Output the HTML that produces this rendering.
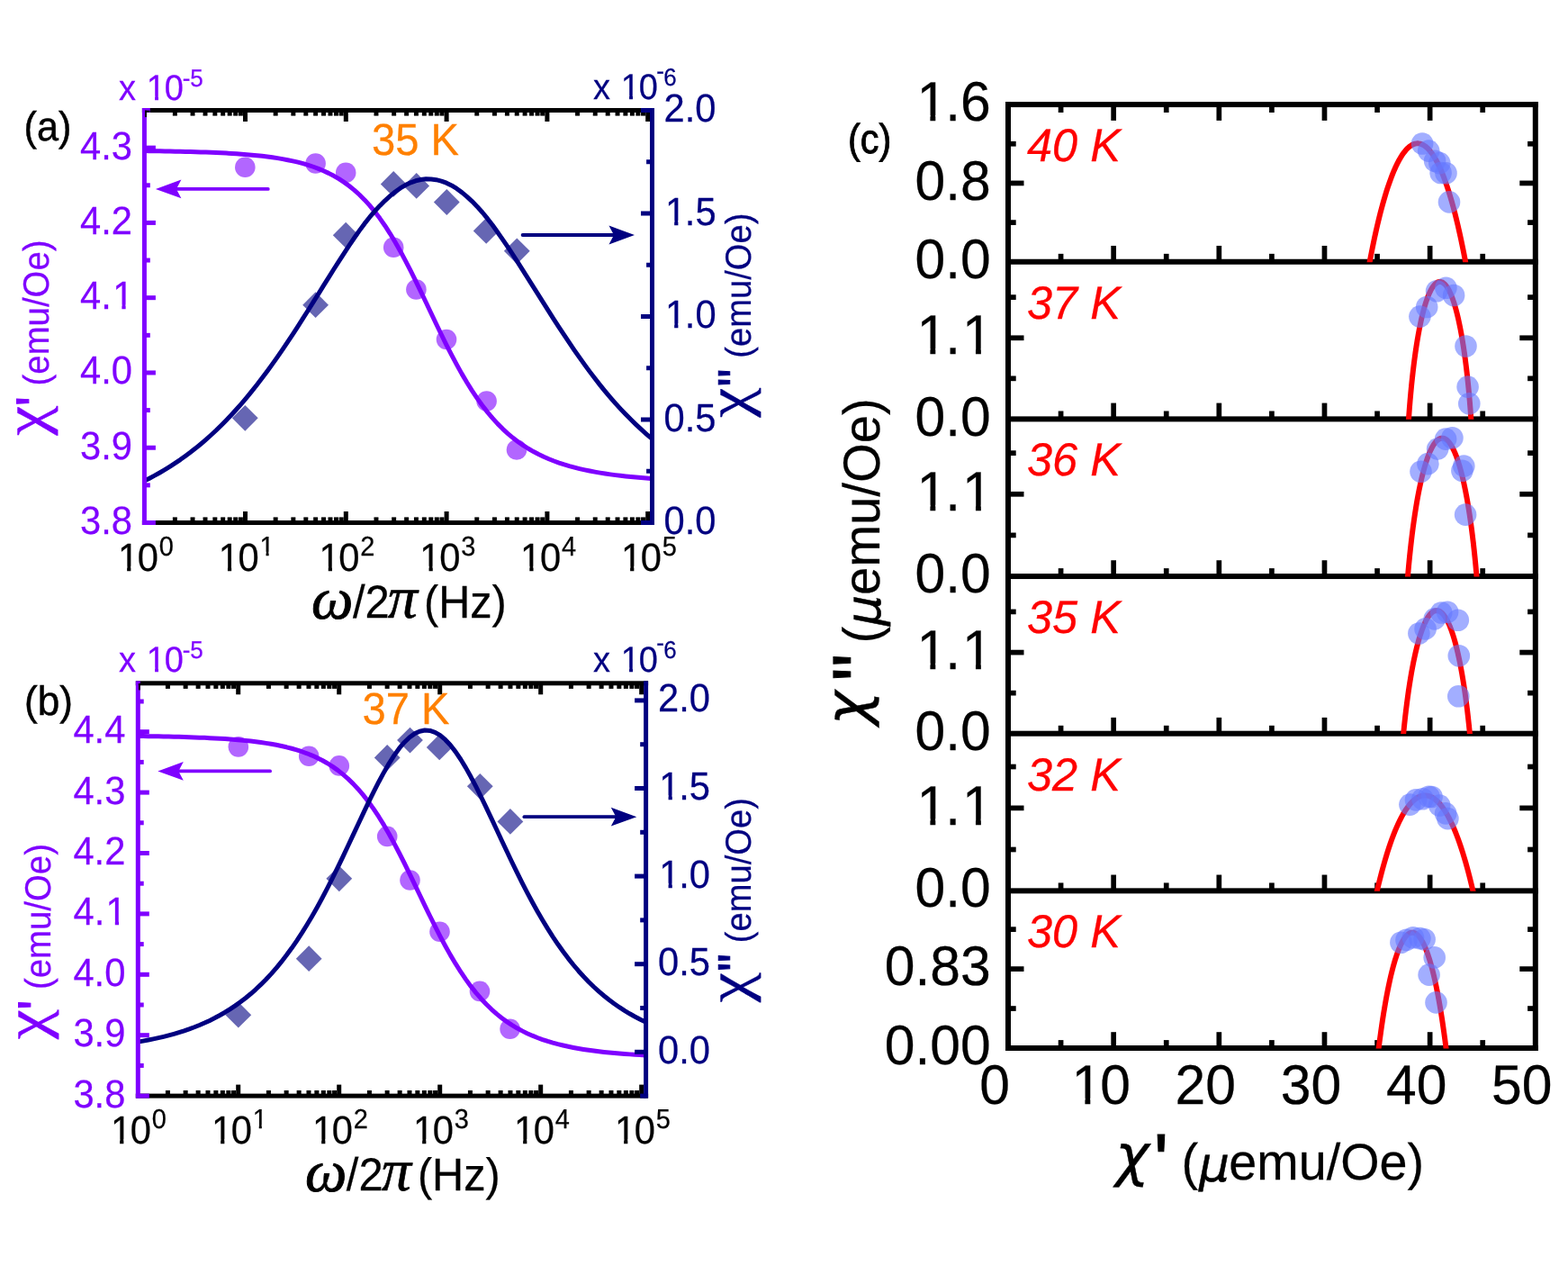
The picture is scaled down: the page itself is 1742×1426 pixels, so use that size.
<!DOCTYPE html>
<html lang="en"><head><meta charset="utf-8"><title>AC susceptibility</title>
<style>
html,body{margin:0;padding:0;background:#fff;}
body{width:1742px;height:1426px;overflow:hidden;}
svg{display:block;}
text{font-family:"Liberation Sans",sans-serif;fill:currentColor;stroke:currentColor;stroke-width:0.25px;white-space:pre;text-rendering:geometricPrecision;font-kerning:none;font-variant-ligatures:none;}
.i{font-style:italic;}
.b{font-weight:bold;}
.gi{font-family:"Liberation Serif","DejaVu Serif",serif;font-style:italic;}
.gb{font-family:"Liberation Serif","DejaVu Serif",serif;font-weight:bold;}
.g{font-family:"Liberation Serif","DejaVu Serif",serif;}
.gbi{font-family:"Liberation Serif","DejaVu Serif",serif;font-weight:bold;font-style:italic;}
.d{font-family:"DejaVu Sans",sans-serif;}
.do{font-family:"DejaVu Sans",sans-serif;font-style:italic;}
.db{font-family:"DejaVu Sans",sans-serif;font-weight:bold;}
</style></head><body>
<svg xmlns="http://www.w3.org/2000/svg" width="1742" height="1426" viewBox="0 0 1742 1426">
<rect width="1742" height="1426" fill="#fff"/>
<g id="panel-a">
<rect x="157.9" y="120" width="569.1" height="5" fill="#000"/>
<rect x="157.9" y="578" width="569.1" height="5" fill="#000"/>
<rect x="191.86" y="122.5" width="5" height="6.1" fill="#000"/>
<rect x="191.86" y="574.4" width="5" height="6.1" fill="#000"/>
<rect x="211.54" y="122.5" width="5" height="6.1" fill="#000"/>
<rect x="211.54" y="574.4" width="5" height="6.1" fill="#000"/>
<rect x="225.51" y="122.5" width="5" height="6.1" fill="#000"/>
<rect x="225.51" y="574.4" width="5" height="6.1" fill="#000"/>
<rect x="236.34" y="122.5" width="5" height="6.1" fill="#000"/>
<rect x="236.34" y="574.4" width="5" height="6.1" fill="#000"/>
<rect x="245.2" y="122.5" width="5" height="6.1" fill="#000"/>
<rect x="245.2" y="574.4" width="5" height="6.1" fill="#000"/>
<rect x="252.68" y="122.5" width="5" height="6.1" fill="#000"/>
<rect x="252.68" y="574.4" width="5" height="6.1" fill="#000"/>
<rect x="259.17" y="122.5" width="5" height="6.1" fill="#000"/>
<rect x="259.17" y="574.4" width="5" height="6.1" fill="#000"/>
<rect x="264.88" y="122.5" width="5" height="6.1" fill="#000"/>
<rect x="264.88" y="574.4" width="5" height="6.1" fill="#000"/>
<rect x="270" y="122.5" width="5" height="12.5" fill="#000"/>
<rect x="270" y="568" width="5" height="12.5" fill="#000"/>
<rect x="303.66" y="122.5" width="5" height="6.1" fill="#000"/>
<rect x="303.66" y="574.4" width="5" height="6.1" fill="#000"/>
<rect x="323.34" y="122.5" width="5" height="6.1" fill="#000"/>
<rect x="323.34" y="574.4" width="5" height="6.1" fill="#000"/>
<rect x="337.31" y="122.5" width="5" height="6.1" fill="#000"/>
<rect x="337.31" y="574.4" width="5" height="6.1" fill="#000"/>
<rect x="348.14" y="122.5" width="5" height="6.1" fill="#000"/>
<rect x="348.14" y="574.4" width="5" height="6.1" fill="#000"/>
<rect x="357" y="122.5" width="5" height="6.1" fill="#000"/>
<rect x="357" y="574.4" width="5" height="6.1" fill="#000"/>
<rect x="364.48" y="122.5" width="5" height="6.1" fill="#000"/>
<rect x="364.48" y="574.4" width="5" height="6.1" fill="#000"/>
<rect x="370.97" y="122.5" width="5" height="6.1" fill="#000"/>
<rect x="370.97" y="574.4" width="5" height="6.1" fill="#000"/>
<rect x="376.68" y="122.5" width="5" height="6.1" fill="#000"/>
<rect x="376.68" y="574.4" width="5" height="6.1" fill="#000"/>
<rect x="381.8" y="122.5" width="5" height="12.5" fill="#000"/>
<rect x="381.8" y="568" width="5" height="12.5" fill="#000"/>
<rect x="415.46" y="122.5" width="5" height="6.1" fill="#000"/>
<rect x="415.46" y="574.4" width="5" height="6.1" fill="#000"/>
<rect x="435.14" y="122.5" width="5" height="6.1" fill="#000"/>
<rect x="435.14" y="574.4" width="5" height="6.1" fill="#000"/>
<rect x="449.11" y="122.5" width="5" height="6.1" fill="#000"/>
<rect x="449.11" y="574.4" width="5" height="6.1" fill="#000"/>
<rect x="459.94" y="122.5" width="5" height="6.1" fill="#000"/>
<rect x="459.94" y="574.4" width="5" height="6.1" fill="#000"/>
<rect x="468.8" y="122.5" width="5" height="6.1" fill="#000"/>
<rect x="468.8" y="574.4" width="5" height="6.1" fill="#000"/>
<rect x="476.28" y="122.5" width="5" height="6.1" fill="#000"/>
<rect x="476.28" y="574.4" width="5" height="6.1" fill="#000"/>
<rect x="482.77" y="122.5" width="5" height="6.1" fill="#000"/>
<rect x="482.77" y="574.4" width="5" height="6.1" fill="#000"/>
<rect x="488.48" y="122.5" width="5" height="6.1" fill="#000"/>
<rect x="488.48" y="574.4" width="5" height="6.1" fill="#000"/>
<rect x="493.6" y="122.5" width="5" height="12.5" fill="#000"/>
<rect x="493.6" y="568" width="5" height="12.5" fill="#000"/>
<rect x="527.26" y="122.5" width="5" height="6.1" fill="#000"/>
<rect x="527.26" y="574.4" width="5" height="6.1" fill="#000"/>
<rect x="546.94" y="122.5" width="5" height="6.1" fill="#000"/>
<rect x="546.94" y="574.4" width="5" height="6.1" fill="#000"/>
<rect x="560.91" y="122.5" width="5" height="6.1" fill="#000"/>
<rect x="560.91" y="574.4" width="5" height="6.1" fill="#000"/>
<rect x="571.74" y="122.5" width="5" height="6.1" fill="#000"/>
<rect x="571.74" y="574.4" width="5" height="6.1" fill="#000"/>
<rect x="580.6" y="122.5" width="5" height="6.1" fill="#000"/>
<rect x="580.6" y="574.4" width="5" height="6.1" fill="#000"/>
<rect x="588.08" y="122.5" width="5" height="6.1" fill="#000"/>
<rect x="588.08" y="574.4" width="5" height="6.1" fill="#000"/>
<rect x="594.57" y="122.5" width="5" height="6.1" fill="#000"/>
<rect x="594.57" y="574.4" width="5" height="6.1" fill="#000"/>
<rect x="600.28" y="122.5" width="5" height="6.1" fill="#000"/>
<rect x="600.28" y="574.4" width="5" height="6.1" fill="#000"/>
<rect x="605.4" y="122.5" width="5" height="12.5" fill="#000"/>
<rect x="605.4" y="568" width="5" height="12.5" fill="#000"/>
<rect x="639.06" y="122.5" width="5" height="6.1" fill="#000"/>
<rect x="639.06" y="574.4" width="5" height="6.1" fill="#000"/>
<rect x="658.74" y="122.5" width="5" height="6.1" fill="#000"/>
<rect x="658.74" y="574.4" width="5" height="6.1" fill="#000"/>
<rect x="672.71" y="122.5" width="5" height="6.1" fill="#000"/>
<rect x="672.71" y="574.4" width="5" height="6.1" fill="#000"/>
<rect x="683.54" y="122.5" width="5" height="6.1" fill="#000"/>
<rect x="683.54" y="574.4" width="5" height="6.1" fill="#000"/>
<rect x="692.4" y="122.5" width="5" height="6.1" fill="#000"/>
<rect x="692.4" y="574.4" width="5" height="6.1" fill="#000"/>
<rect x="699.88" y="122.5" width="5" height="6.1" fill="#000"/>
<rect x="699.88" y="574.4" width="5" height="6.1" fill="#000"/>
<rect x="706.37" y="122.5" width="5" height="6.1" fill="#000"/>
<rect x="706.37" y="574.4" width="5" height="6.1" fill="#000"/>
<rect x="712.08" y="122.5" width="5" height="6.1" fill="#000"/>
<rect x="712.08" y="574.4" width="5" height="6.1" fill="#000"/>
<rect x="717.2" y="122.5" width="5" height="12.5" fill="#000"/>
<rect x="717.2" y="568" width="5" height="12.5" fill="#000"/>
<circle cx="272.3" cy="185.8" r="11.3" fill="#7f00ff" fill-opacity="0.6"/>
<circle cx="350.6" cy="181.5" r="11.3" fill="#7f00ff" fill-opacity="0.6"/>
<circle cx="384.2" cy="191.8" r="11.3" fill="#7f00ff" fill-opacity="0.6"/>
<circle cx="437.2" cy="274.8" r="11.3" fill="#7f00ff" fill-opacity="0.6"/>
<circle cx="462.4" cy="321.5" r="11.3" fill="#7f00ff" fill-opacity="0.6"/>
<circle cx="496" cy="377" r="11.3" fill="#7f00ff" fill-opacity="0.6"/>
<circle cx="540.6" cy="445.6" r="11.3" fill="#7f00ff" fill-opacity="0.6"/>
<circle cx="574" cy="499.5" r="11.3" fill="#7f00ff" fill-opacity="0.6"/>
<path d="M272.3,449.9 L286.7,464.3 L272.3,478.7 L257.9,464.3 Z" fill="#000080" fill-opacity="0.6"/>
<path d="M350.6,324.3 L365,338.7 L350.6,353.1 L336.2,338.7 Z" fill="#000080" fill-opacity="0.6"/>
<path d="M384.2,246.8 L398.6,261.2 L384.2,275.6 L369.8,261.2 Z" fill="#000080" fill-opacity="0.6"/>
<path d="M437.2,190 L451.6,204.4 L437.2,218.8 L422.8,204.4 Z" fill="#000080" fill-opacity="0.6"/>
<path d="M462.7,192 L477.1,206.4 L462.7,220.8 L448.3,206.4 Z" fill="#000080" fill-opacity="0.6"/>
<path d="M496.3,210.1 L510.7,224.5 L496.3,238.9 L481.9,224.5 Z" fill="#000080" fill-opacity="0.6"/>
<path d="M540.2,242 L554.6,256.4 L540.2,270.8 L525.8,256.4 Z" fill="#000080" fill-opacity="0.6"/>
<path d="M574.3,264.4 L588.7,278.8 L574.3,293.2 L559.9,278.8 Z" fill="#000080" fill-opacity="0.6"/>
<polyline points="160.4,167.61 166.09,167.68 171.78,167.76 177.46,167.84 183.15,167.93 188.84,168.03 194.53,168.14 200.22,168.26 205.9,168.4 211.59,168.55 217.28,168.71 222.97,168.89 228.65,169.09 234.34,169.31 240.03,169.55 245.72,169.82 251.41,170.12 257.09,170.45 262.78,170.81 268.47,171.22 274.16,171.67 279.85,172.16 285.53,172.72 291.22,173.34 296.91,174.02 302.6,174.79 308.28,175.64 313.97,176.6 319.66,177.67 325.35,178.86 331.04,180.19 336.72,181.69 342.41,183.37 348.1,185.25 353.79,187.35 359.48,189.72 365.16,192.36 370.85,195.33 376.54,198.65 382.23,202.37 387.92,206.51 393.6,211.12 399.29,216.25 404.98,221.92 410.67,228.18 416.35,235.06 422.04,242.57 427.73,250.73 433.42,259.53 439.11,268.97 444.79,279 450.48,289.58 456.17,300.64 461.86,312.09 467.55,323.83 473.23,335.76 478.92,347.76 484.61,359.71 490.3,371.5 495.98,383.02 501.67,394.18 507.36,404.9 513.05,415.12 518.74,424.8 524.42,433.9 530.11,442.4 535.8,450.32 541.49,457.65 547.18,464.42 552.86,470.64 558.55,476.34 564.24,481.56 569.93,486.33 575.62,490.68 581.3,494.65 586.99,498.26 592.68,501.55 598.37,504.54 604.05,507.26 609.74,509.74 615.43,511.99 621.12,514.04 626.81,515.91 632.49,517.62 638.18,519.17 643.87,520.59 649.56,521.88 655.25,523.06 660.93,524.14 666.62,525.13 672.31,526.03 678,526.86 683.68,527.62 689.37,528.31 695.06,528.95 700.75,529.53 706.44,530.06 712.12,530.55 717.81,531 723.5,531.42" fill="none" stroke="#7f00ff" stroke-width="5" stroke-linejoin="round"/>
<polyline points="160.4,534.04 166.09,531.16 171.78,528.14 177.46,524.96 183.15,521.62 188.84,518.11 194.53,514.43 200.22,510.57 205.9,506.52 211.59,502.28 217.28,497.84 222.97,493.19 228.65,488.34 234.34,483.26 240.03,477.97 245.72,472.44 251.41,466.69 257.09,460.71 262.78,454.49 268.47,448.03 274.16,441.34 279.85,434.41 285.53,427.25 291.22,419.85 296.91,412.23 302.6,404.4 308.28,396.35 313.97,388.11 319.66,379.68 325.35,371.08 331.04,362.34 336.72,353.46 342.41,344.48 348.1,335.42 353.79,326.32 359.48,317.19 365.16,308.09 370.85,299.04 376.54,290.09 382.23,281.28 387.92,272.65 393.6,264.26 399.29,256.14 404.98,248.41 410.67,241.22 416.35,234.55 422.04,228.41 427.73,222.78 433.42,217.67 439.11,213.05 444.79,208.97 450.48,205.56 456.17,202.83 461.86,200.79 467.55,199.47 473.23,198.85 478.92,198.92 484.61,199.66 490.3,201.08 495.98,203.18 501.67,205.97 507.36,209.46 513.05,213.61 518.74,218.31 524.42,223.57 530.11,229.38 535.8,235.74 541.49,242.65 547.18,250.09 552.86,257.92 558.55,266.07 564.24,274.47 569.93,283.09 575.62,291.87 581.3,300.79 586.99,309.79 592.68,318.83 598.37,327.89 604.05,336.91 609.74,345.89 615.43,354.78 621.12,363.56 626.81,372.21 632.49,380.71 638.18,389.04 643.87,397.18 649.56,405.13 655.25,412.86 660.93,420.35 666.62,427.59 672.31,434.59 678,441.34 683.68,447.83 689.37,454.08 695.06,460.09 700.75,465.86 706.44,471.39 712.12,476.69 717.81,481.77 723.5,486.63" fill="none" stroke="#000080" stroke-width="5" stroke-linejoin="round"/>
<rect x="157.9" y="120" width="5" height="463" fill="#7f00ff"/>
<rect x="160.4" y="578" width="12.5" height="5" fill="#7f00ff"/>
<rect x="160.4" y="536.36" width="6.4" height="5" fill="#7f00ff"/>
<rect x="160.4" y="494.73" width="12.5" height="5" fill="#7f00ff"/>
<rect x="160.4" y="453.09" width="6.4" height="5" fill="#7f00ff"/>
<rect x="160.4" y="411.46" width="12.5" height="5" fill="#7f00ff"/>
<rect x="160.4" y="369.82" width="6.4" height="5" fill="#7f00ff"/>
<rect x="160.4" y="328.18" width="12.5" height="5" fill="#7f00ff"/>
<rect x="160.4" y="286.55" width="6.4" height="5" fill="#7f00ff"/>
<rect x="160.4" y="244.91" width="12.5" height="5" fill="#7f00ff"/>
<rect x="160.4" y="203.28" width="6.4" height="5" fill="#7f00ff"/>
<rect x="160.4" y="161.64" width="12.5" height="5" fill="#7f00ff"/>
<rect x="160.4" y="120" width="6.4" height="5" fill="#7f00ff"/>
<rect x="161" y="122.7" width="1.9" height="7.4" fill="#000"/>
<rect x="161" y="122.7" width="5.4" height="2" fill="#000"/>
<rect x="722" y="120" width="5" height="463" fill="#000080"/>
<rect x="712" y="578" width="12.5" height="5" fill="#000080"/>
<rect x="718.1" y="520.75" width="6.4" height="5" fill="#000080"/>
<rect x="712" y="463.5" width="12.5" height="5" fill="#000080"/>
<rect x="718.1" y="406.25" width="6.4" height="5" fill="#000080"/>
<rect x="712" y="349" width="12.5" height="5" fill="#000080"/>
<rect x="718.1" y="291.75" width="6.4" height="5" fill="#000080"/>
<rect x="712" y="234.5" width="12.5" height="5" fill="#000080"/>
<rect x="718.1" y="177.25" width="6.4" height="5" fill="#000080"/>
<rect x="712" y="120" width="12.5" height="5" fill="#000080"/>
<text font-size="43.79" style="color:#7f00ff" transform="translate(89.03,593) scale(0.9524,1)">3.8</text>
<text font-size="43.79" style="color:#7f00ff" transform="translate(89.03,509.73) scale(0.9524,1)">3.9</text>
<text font-size="43.79" style="color:#7f00ff" transform="translate(89.03,426.46) scale(0.9524,1)">4.0</text>
<text font-size="43.79" style="color:#7f00ff" transform="translate(89.03,343.19) scale(0.9524,1)" dx="0 0 1.44">4.1</text>
<path d="M126.85,338.41H135.4V344.69H126.85ZM139.61,338.41H147.83V344.69H139.61Z" fill="#fff"/>
<text font-size="43.79" style="color:#7f00ff" transform="translate(89.03,259.92) scale(0.9524,1)">4.2</text>
<text font-size="43.79" style="color:#7f00ff" transform="translate(89.03,176.65) scale(0.9524,1)">4.3</text>
<text font-size="43.79" style="color:#000080" transform="translate(737.6,593) scale(0.9524,1)">0.0</text>
<text font-size="43.79" style="color:#000080" transform="translate(737.6,478.5) scale(0.9524,1)">0.5</text>
<text font-size="43.79" style="color:#000080" transform="translate(737.6,364) scale(0.9524,1)" dx="1.44 -1.44 0">1.0</text>
<path d="M740.65,359.22H749.19V365.5H740.65ZM753.4,359.22H761.62V365.5H753.4Z" fill="#fff"/>
<text font-size="43.79" style="color:#000080" transform="translate(737.6,249.5) scale(0.9524,1)" dx="1.44 -1.44 0">1.5</text>
<path d="M740.65,244.72H749.19V251H740.65ZM753.4,244.72H761.62V251H753.4Z" fill="#fff"/>
<text font-size="43.79" style="color:#000080" transform="translate(737.6,135) scale(0.9524,1)">2.0</text>
<text font-size="43.79" style="color:#000" transform="translate(129.55,633.6) scale(0.9524,1)" dx="1.44 -1.44">10<tspan dx="0.84" dy="-17" font-size="30.45">0</tspan></text>
<path d="M132.6,628.82H141.15V635.1H132.6ZM145.36,628.82H153.57V635.1H145.36Z" fill="#fff"/>
<text font-size="43.79" style="color:#000" transform="translate(241.35,633.6) scale(0.9524,1)" dx="1.44 -1.44">10<tspan dx="0.84" dy="-17" font-size="30.45">1</tspan></text>
<path d="M244.4,628.82H252.95V635.1H244.4ZM257.16,628.82H265.37V635.1H257.16Z" fill="#fff"/>
<path d="M289.23,612.82H295.55V618.1H289.23ZM298.63,612.82H304.73V618.1H298.63Z" fill="#fff"/>
<text font-size="43.79" style="color:#000" transform="translate(353.15,633.6) scale(0.9524,1)" dx="1.44 -1.44">10<tspan dx="0.84" dy="-17" font-size="30.45">2</tspan></text>
<path d="M356.2,628.82H364.75V635.1H356.2ZM368.96,628.82H377.17V635.1H368.96Z" fill="#fff"/>
<text font-size="43.79" style="color:#000" transform="translate(464.95,633.6) scale(0.9524,1)" dx="1.44 -1.44">10<tspan dx="0.84" dy="-17" font-size="30.45">3</tspan></text>
<path d="M468,628.82H476.55V635.1H468ZM480.76,628.82H488.97V635.1H480.76Z" fill="#fff"/>
<text font-size="43.79" style="color:#000" transform="translate(576.75,633.6) scale(0.9524,1)" dx="1.44 -1.44">10<tspan dx="0.84" dy="-17" font-size="30.45">4</tspan></text>
<path d="M579.8,628.82H588.35V635.1H579.8ZM592.56,628.82H600.77V635.1H592.56Z" fill="#fff"/>
<text font-size="43.79" style="color:#000" transform="translate(688.55,633.6) scale(0.9524,1)" dx="1.44 -1.44">10<tspan dx="0.84" dy="-17" font-size="30.45">5</tspan></text>
<path d="M691.6,628.82H700.15V635.1H691.6ZM704.36,628.82H712.57V635.1H704.36Z" fill="#fff"/>
<text font-size="39.9" style="color:#7f00ff" transform="translate(132,110.8) scale(0.9524,1)" dx="0 0 1.32 -1.32">x 10<tspan dx="-1.16" dy="-15" font-size="27.3">-5</tspan></text>
<path d="M164.2,106.31H172.1V112.3H164.2ZM175.98,106.31H183.58V112.3H175.98Z" fill="#fff"/>
<text font-size="39.9" style="color:#000080" transform="translate(659,110.4) scale(0.9524,1)" dx="0 0 1.32 -1.32">x 10<tspan dx="-1.68" dy="-22.7" font-size="27.3">-</tspan><tspan dx="-0.63" dy="7.7" font-size="27.3">6</tspan></text>
<path d="M691.2,105.91H699.1V111.9H691.2ZM702.98,105.91H710.58V111.9H702.98Z" fill="#fff"/>
<line x1="297.8" y1="209.9" x2="195.9" y2="209.9" stroke="#7f00ff" stroke-width="3.8" stroke-linecap="round"/>
<path d="M172.9,209.9 L201.4,199.5 L195.9,209.9 L201.4,220.3 Z" fill="#7f00ff"/>
<line x1="580.6" y1="261" x2="682" y2="261" stroke="#000080" stroke-width="3.8" stroke-linecap="round"/>
<path d="M705,261 L676.5,250.6 L682,261 L676.5,271.4 Z" fill="#000080"/>
<text font-size="49.56" style="color:#ff8000" transform="translate(412.9,172) scale(0.9524,1)">35 K</text>
<text font-size="45.5" style="color:#000;stroke-width:0.5px" transform="translate(26.6,155.9) scale(0.9500,1)">(a)</text>
<text font-size="65.67" style="color:#000;stroke-width:0.9px" class="gi" x="346.02" y="686.66">ω</text>
<text font-size="51.45" style="color:#000" transform="translate(391.9,685.6) scale(0.9524,1)">/2</text>
<text font-size="66.15" style="color:#000;stroke-width:0.6px" class="gi" x="430.74" y="686.05">π</text>
<text font-size="51.07" style="color:#000" transform="translate(470.98,685.6) scale(0.9524,1)">(Hz)</text>
<text font-size="66.68" style="color:#7f00ff;stroke-width:0.3px" class="g" transform="translate(49.7,483.63) rotate(-90) scale(1.1200,1)">χ</text>
<text font-size="61.74" style="color:#7f00ff;stroke-width:1px" transform="translate(61.38,451.19) rotate(-90) scale(0.9524,1)">'</text>
<text font-size="40.29" style="color:#7f00ff" transform="translate(54.1,428.48) rotate(-90) scale(0.9524,1)">(emu/Oe)</text>
<text font-size="66.53" style="color:#000080;stroke-width:0.3px" class="g" transform="translate(830.64,463.73) rotate(-90) scale(1.1200,1)">χ</text>
<text font-size="57.75" style="color:#000080;stroke-width:1px" transform="translate(838.03,429.34) rotate(-90) scale(0.9524,1)">"</text>
<text font-size="40.06" style="color:#000080" transform="translate(833.53,397.67) rotate(-90) scale(0.9524,1)">(emu/Oe)</text>
</g>
<g id="panel-b">
<rect x="150.8" y="756.3" width="569.3" height="5" fill="#000"/>
<rect x="150.8" y="1214.6" width="569.3" height="5" fill="#000"/>
<rect x="183.92" y="758.8" width="5" height="6.1" fill="#000"/>
<rect x="183.92" y="1211" width="5" height="6.1" fill="#000"/>
<rect x="203.64" y="758.8" width="5" height="6.1" fill="#000"/>
<rect x="203.64" y="1211" width="5" height="6.1" fill="#000"/>
<rect x="217.63" y="758.8" width="5" height="6.1" fill="#000"/>
<rect x="217.63" y="1211" width="5" height="6.1" fill="#000"/>
<rect x="228.48" y="758.8" width="5" height="6.1" fill="#000"/>
<rect x="228.48" y="1211" width="5" height="6.1" fill="#000"/>
<rect x="237.35" y="758.8" width="5" height="6.1" fill="#000"/>
<rect x="237.35" y="1211" width="5" height="6.1" fill="#000"/>
<rect x="244.85" y="758.8" width="5" height="6.1" fill="#000"/>
<rect x="244.85" y="1211" width="5" height="6.1" fill="#000"/>
<rect x="251.35" y="758.8" width="5" height="6.1" fill="#000"/>
<rect x="251.35" y="1211" width="5" height="6.1" fill="#000"/>
<rect x="257.08" y="758.8" width="5" height="6.1" fill="#000"/>
<rect x="257.08" y="1211" width="5" height="6.1" fill="#000"/>
<rect x="262.2" y="758.8" width="5" height="12.5" fill="#000"/>
<rect x="262.2" y="1204.6" width="5" height="12.5" fill="#000"/>
<rect x="295.92" y="758.8" width="5" height="6.1" fill="#000"/>
<rect x="295.92" y="1211" width="5" height="6.1" fill="#000"/>
<rect x="315.64" y="758.8" width="5" height="6.1" fill="#000"/>
<rect x="315.64" y="1211" width="5" height="6.1" fill="#000"/>
<rect x="329.63" y="758.8" width="5" height="6.1" fill="#000"/>
<rect x="329.63" y="1211" width="5" height="6.1" fill="#000"/>
<rect x="340.48" y="758.8" width="5" height="6.1" fill="#000"/>
<rect x="340.48" y="1211" width="5" height="6.1" fill="#000"/>
<rect x="349.35" y="758.8" width="5" height="6.1" fill="#000"/>
<rect x="349.35" y="1211" width="5" height="6.1" fill="#000"/>
<rect x="356.85" y="758.8" width="5" height="6.1" fill="#000"/>
<rect x="356.85" y="1211" width="5" height="6.1" fill="#000"/>
<rect x="363.35" y="758.8" width="5" height="6.1" fill="#000"/>
<rect x="363.35" y="1211" width="5" height="6.1" fill="#000"/>
<rect x="369.08" y="758.8" width="5" height="6.1" fill="#000"/>
<rect x="369.08" y="1211" width="5" height="6.1" fill="#000"/>
<rect x="374.2" y="758.8" width="5" height="12.5" fill="#000"/>
<rect x="374.2" y="1204.6" width="5" height="12.5" fill="#000"/>
<rect x="407.92" y="758.8" width="5" height="6.1" fill="#000"/>
<rect x="407.92" y="1211" width="5" height="6.1" fill="#000"/>
<rect x="427.64" y="758.8" width="5" height="6.1" fill="#000"/>
<rect x="427.64" y="1211" width="5" height="6.1" fill="#000"/>
<rect x="441.63" y="758.8" width="5" height="6.1" fill="#000"/>
<rect x="441.63" y="1211" width="5" height="6.1" fill="#000"/>
<rect x="452.48" y="758.8" width="5" height="6.1" fill="#000"/>
<rect x="452.48" y="1211" width="5" height="6.1" fill="#000"/>
<rect x="461.35" y="758.8" width="5" height="6.1" fill="#000"/>
<rect x="461.35" y="1211" width="5" height="6.1" fill="#000"/>
<rect x="468.85" y="758.8" width="5" height="6.1" fill="#000"/>
<rect x="468.85" y="1211" width="5" height="6.1" fill="#000"/>
<rect x="475.35" y="758.8" width="5" height="6.1" fill="#000"/>
<rect x="475.35" y="1211" width="5" height="6.1" fill="#000"/>
<rect x="481.08" y="758.8" width="5" height="6.1" fill="#000"/>
<rect x="481.08" y="1211" width="5" height="6.1" fill="#000"/>
<rect x="486.2" y="758.8" width="5" height="12.5" fill="#000"/>
<rect x="486.2" y="1204.6" width="5" height="12.5" fill="#000"/>
<rect x="519.92" y="758.8" width="5" height="6.1" fill="#000"/>
<rect x="519.92" y="1211" width="5" height="6.1" fill="#000"/>
<rect x="539.64" y="758.8" width="5" height="6.1" fill="#000"/>
<rect x="539.64" y="1211" width="5" height="6.1" fill="#000"/>
<rect x="553.63" y="758.8" width="5" height="6.1" fill="#000"/>
<rect x="553.63" y="1211" width="5" height="6.1" fill="#000"/>
<rect x="564.48" y="758.8" width="5" height="6.1" fill="#000"/>
<rect x="564.48" y="1211" width="5" height="6.1" fill="#000"/>
<rect x="573.35" y="758.8" width="5" height="6.1" fill="#000"/>
<rect x="573.35" y="1211" width="5" height="6.1" fill="#000"/>
<rect x="580.85" y="758.8" width="5" height="6.1" fill="#000"/>
<rect x="580.85" y="1211" width="5" height="6.1" fill="#000"/>
<rect x="587.35" y="758.8" width="5" height="6.1" fill="#000"/>
<rect x="587.35" y="1211" width="5" height="6.1" fill="#000"/>
<rect x="593.08" y="758.8" width="5" height="6.1" fill="#000"/>
<rect x="593.08" y="1211" width="5" height="6.1" fill="#000"/>
<rect x="598.2" y="758.8" width="5" height="12.5" fill="#000"/>
<rect x="598.2" y="1204.6" width="5" height="12.5" fill="#000"/>
<rect x="631.92" y="758.8" width="5" height="6.1" fill="#000"/>
<rect x="631.92" y="1211" width="5" height="6.1" fill="#000"/>
<rect x="651.64" y="758.8" width="5" height="6.1" fill="#000"/>
<rect x="651.64" y="1211" width="5" height="6.1" fill="#000"/>
<rect x="665.63" y="758.8" width="5" height="6.1" fill="#000"/>
<rect x="665.63" y="1211" width="5" height="6.1" fill="#000"/>
<rect x="676.48" y="758.8" width="5" height="6.1" fill="#000"/>
<rect x="676.48" y="1211" width="5" height="6.1" fill="#000"/>
<rect x="685.35" y="758.8" width="5" height="6.1" fill="#000"/>
<rect x="685.35" y="1211" width="5" height="6.1" fill="#000"/>
<rect x="692.85" y="758.8" width="5" height="6.1" fill="#000"/>
<rect x="692.85" y="1211" width="5" height="6.1" fill="#000"/>
<rect x="699.35" y="758.8" width="5" height="6.1" fill="#000"/>
<rect x="699.35" y="1211" width="5" height="6.1" fill="#000"/>
<rect x="705.08" y="758.8" width="5" height="6.1" fill="#000"/>
<rect x="705.08" y="1211" width="5" height="6.1" fill="#000"/>
<rect x="710.2" y="758.8" width="5" height="12.5" fill="#000"/>
<rect x="710.2" y="1204.6" width="5" height="12.5" fill="#000"/>
<circle cx="264.8" cy="829.4" r="11.3" fill="#7f00ff" fill-opacity="0.6"/>
<circle cx="343.2" cy="839.7" r="11.3" fill="#7f00ff" fill-opacity="0.6"/>
<circle cx="376.8" cy="850.4" r="11.3" fill="#7f00ff" fill-opacity="0.6"/>
<circle cx="430.2" cy="928.9" r="11.3" fill="#7f00ff" fill-opacity="0.6"/>
<circle cx="455.5" cy="977.5" r="11.3" fill="#7f00ff" fill-opacity="0.6"/>
<circle cx="488.5" cy="1034.8" r="11.3" fill="#7f00ff" fill-opacity="0.6"/>
<circle cx="533" cy="1100.9" r="11.3" fill="#7f00ff" fill-opacity="0.6"/>
<circle cx="566.6" cy="1142.7" r="11.3" fill="#7f00ff" fill-opacity="0.6"/>
<path d="M264.8,1112.8 L279.2,1127.2 L264.8,1141.6 L250.4,1127.2 Z" fill="#000080" fill-opacity="0.6"/>
<path d="M343.2,1050.3 L357.6,1064.7 L343.2,1079.1 L328.8,1064.7 Z" fill="#000080" fill-opacity="0.6"/>
<path d="M376.8,961.4 L391.2,975.8 L376.8,990.2 L362.4,975.8 Z" fill="#000080" fill-opacity="0.6"/>
<path d="M430.2,827 L444.6,841.4 L430.2,855.8 L415.8,841.4 Z" fill="#000080" fill-opacity="0.6"/>
<path d="M455.5,807.7 L469.9,822.1 L455.5,836.5 L441.1,822.1 Z" fill="#000080" fill-opacity="0.6"/>
<path d="M488.2,815.5 L502.6,829.9 L488.2,844.3 L473.8,829.9 Z" fill="#000080" fill-opacity="0.6"/>
<path d="M533.3,858.9 L547.7,873.3 L533.3,887.7 L518.9,873.3 Z" fill="#000080" fill-opacity="0.6"/>
<path d="M566.9,898 L581.3,912.4 L566.9,926.8 L552.5,912.4 Z" fill="#000080" fill-opacity="0.6"/>
<polyline points="153.3,817.51 158.99,817.59 164.68,817.67 170.37,817.76 176.06,817.86 181.75,817.97 187.44,818.09 193.13,818.23 198.82,818.37 204.51,818.53 210.2,818.71 215.89,818.91 221.58,819.13 227.27,819.37 232.96,819.63 238.65,819.92 244.34,820.25 250.03,820.61 255.72,821.01 261.41,821.45 267.1,821.94 272.79,822.48 278.48,823.09 284.17,823.77 289.86,824.52 295.55,825.35 301.24,826.29 306.93,827.33 312.62,828.5 318.31,829.8 324,831.26 329.69,832.9 335.38,834.73 341.07,836.78 346.76,839.08 352.45,841.65 358.14,844.54 363.83,847.76 369.52,851.37 375.21,855.39 380.9,859.87 386.59,864.84 392.28,870.36 397.97,876.44 403.66,883.12 409.35,890.43 415.04,898.38 420.73,906.96 426.42,916.18 432.11,926 437.79,936.37 443.48,947.23 449.17,958.5 454.86,970.09 460.55,981.87 466.24,993.75 471.93,1005.59 477.62,1017.28 483.31,1028.72 489,1039.81 494.69,1050.46 500.38,1060.61 506.07,1070.2 511.76,1079.21 517.45,1087.62 523.14,1095.41 528.83,1102.61 534.52,1109.23 540.21,1115.29 545.9,1120.83 551.59,1125.87 557.28,1130.45 562.97,1134.61 568.66,1138.38 574.35,1141.79 580.04,1144.88 585.73,1147.67 591.42,1150.19 597.11,1152.48 602.8,1154.54 608.49,1156.41 614.18,1158.1 619.87,1159.64 625.56,1161.03 631.25,1162.29 636.94,1163.43 642.63,1164.47 648.32,1165.41 654.01,1166.27 659.7,1167.05 665.39,1167.76 671.08,1168.41 676.77,1169 682.46,1169.54 688.15,1170.03 693.84,1170.47 699.53,1170.88 705.22,1171.26 710.91,1171.6 716.6,1171.91" fill="none" stroke="#7f00ff" stroke-width="5" stroke-linejoin="round"/>
<polyline points="153.3,1157.09 158.99,1156.11 164.68,1155.05 170.37,1153.9 176.06,1152.67 181.75,1151.33 187.44,1149.89 193.13,1148.33 198.82,1146.65 204.51,1144.84 210.2,1142.88 215.89,1140.77 221.58,1138.5 227.27,1136.05 232.96,1133.41 238.65,1130.57 244.34,1127.51 250.03,1124.23 255.72,1120.69 261.41,1116.9 267.1,1112.83 272.79,1108.46 278.48,1103.78 284.17,1098.77 289.86,1093.42 295.55,1087.7 301.24,1081.59 306.93,1075.09 312.62,1068.18 318.31,1060.84 324,1053.07 329.69,1044.84 335.38,1036.16 341.07,1027.03 346.76,1017.45 352.45,1007.43 358.14,996.98 363.83,986.13 369.52,974.91 375.21,963.37 380.9,951.56 386.59,939.54 392.28,927.4 397.97,915.23 403.66,903.12 409.35,891.2 415.04,879.6 420.73,868.44 426.42,857.88 432.11,848.05 437.79,839.11 443.48,831.2 449.17,824.44 454.86,818.96 460.55,814.85 466.24,812.2 471.93,811.04 477.62,811.4 483.31,813.28 489,816.64 494.69,821.42 500.38,827.52 506.07,834.85 511.76,843.27 517.45,852.65 523.14,862.84 528.83,873.71 534.52,885.09 540.21,896.86 545.9,908.88 551.59,921.03 557.28,933.2 562.97,945.29 568.66,957.21 574.35,968.9 580.04,980.29 585.73,991.33 591.42,1001.99 597.11,1012.24 602.8,1022.05 608.49,1031.42 614.18,1040.33 619.87,1048.79 625.56,1056.8 631.25,1064.37 636.94,1071.5 642.63,1078.21 648.32,1084.52 654.01,1090.44 659.7,1095.98 665.39,1101.17 671.08,1106.02 676.77,1110.55 682.46,1114.77 688.15,1118.71 693.84,1122.38 699.53,1125.79 705.22,1128.97 710.91,1131.92 716.6,1134.67" fill="none" stroke="#000080" stroke-width="5" stroke-linejoin="round"/>
<rect x="150.8" y="756.3" width="5" height="463.3" fill="#7f00ff"/>
<rect x="153.3" y="1214.6" width="12.5" height="5" fill="#7f00ff"/>
<rect x="153.3" y="1180.9" width="6.4" height="5" fill="#7f00ff"/>
<rect x="153.3" y="1147.2" width="12.5" height="5" fill="#7f00ff"/>
<rect x="153.3" y="1113.5" width="6.4" height="5" fill="#7f00ff"/>
<rect x="153.3" y="1079.8" width="12.5" height="5" fill="#7f00ff"/>
<rect x="153.3" y="1046.1" width="6.4" height="5" fill="#7f00ff"/>
<rect x="153.3" y="1012.4" width="12.5" height="5" fill="#7f00ff"/>
<rect x="153.3" y="978.7" width="6.4" height="5" fill="#7f00ff"/>
<rect x="153.3" y="945" width="12.5" height="5" fill="#7f00ff"/>
<rect x="153.3" y="911.3" width="6.4" height="5" fill="#7f00ff"/>
<rect x="153.3" y="877.6" width="12.5" height="5" fill="#7f00ff"/>
<rect x="153.3" y="843.9" width="6.4" height="5" fill="#7f00ff"/>
<rect x="153.3" y="810.2" width="12.5" height="5" fill="#7f00ff"/>
<rect x="153.3" y="776.5" width="6.4" height="5" fill="#7f00ff"/>
<rect x="153.9" y="759" width="1.9" height="7.4" fill="#000"/>
<rect x="153.9" y="759" width="5.4" height="2" fill="#000"/>
<rect x="715.1" y="756.3" width="5" height="463.3" fill="#000080"/>
<rect x="711.2" y="1214.6" width="6.4" height="5" fill="#000080"/>
<rect x="705.1" y="1165.8" width="12.5" height="5" fill="#000080"/>
<rect x="711.2" y="1117" width="6.4" height="5" fill="#000080"/>
<rect x="705.1" y="1068.2" width="12.5" height="5" fill="#000080"/>
<rect x="711.2" y="1019.4" width="6.4" height="5" fill="#000080"/>
<rect x="705.1" y="970.6" width="12.5" height="5" fill="#000080"/>
<rect x="711.2" y="921.8" width="6.4" height="5" fill="#000080"/>
<rect x="705.1" y="873" width="12.5" height="5" fill="#000080"/>
<rect x="711.2" y="824.2" width="6.4" height="5" fill="#000080"/>
<rect x="705.1" y="775.4" width="12.5" height="5" fill="#000080"/>
<text font-size="43.79" style="color:#7f00ff" transform="translate(81.43,1229.6) scale(0.9524,1)">3.8</text>
<text font-size="43.79" style="color:#7f00ff" transform="translate(81.43,1162.2) scale(0.9524,1)">3.9</text>
<text font-size="43.79" style="color:#7f00ff" transform="translate(81.43,1094.8) scale(0.9524,1)">4.0</text>
<text font-size="43.79" style="color:#7f00ff" transform="translate(81.43,1027.4) scale(0.9524,1)" dx="0 0 1.44">4.1</text>
<path d="M119.25,1022.62H127.8V1028.9H119.25ZM132.01,1022.62H140.23V1028.9H132.01Z" fill="#fff"/>
<text font-size="43.79" style="color:#7f00ff" transform="translate(81.43,960) scale(0.9524,1)">4.2</text>
<text font-size="43.79" style="color:#7f00ff" transform="translate(81.43,892.6) scale(0.9524,1)">4.3</text>
<text font-size="43.79" style="color:#7f00ff" transform="translate(81.43,825.2) scale(0.9524,1)">4.4</text>
<text font-size="43.79" style="color:#000080" transform="translate(731,1180.8) scale(0.9524,1)">0.0</text>
<text font-size="43.79" style="color:#000080" transform="translate(731,1083.2) scale(0.9524,1)">0.5</text>
<text font-size="43.79" style="color:#000080" transform="translate(731,985.6) scale(0.9524,1)" dx="1.44 -1.44 0">1.0</text>
<path d="M734.05,980.82H742.59V987.1H734.05ZM746.8,980.82H755.02V987.1H746.8Z" fill="#fff"/>
<text font-size="43.79" style="color:#000080" transform="translate(731,888) scale(0.9524,1)" dx="1.44 -1.44 0">1.5</text>
<path d="M734.05,883.22H742.59V889.5H734.05ZM746.8,883.22H755.02V889.5H746.8Z" fill="#fff"/>
<text font-size="43.79" style="color:#000080" transform="translate(731,790.4) scale(0.9524,1)">2.0</text>
<text font-size="43.79" style="color:#000" transform="translate(121.55,1270.1) scale(0.9524,1)" dx="1.44 -1.44">10<tspan dx="0.84" dy="-17" font-size="30.45">0</tspan></text>
<path d="M124.6,1265.32H133.15V1271.6H124.6ZM137.36,1265.32H145.57V1271.6H137.36Z" fill="#fff"/>
<text font-size="43.79" style="color:#000" transform="translate(233.55,1270.1) scale(0.9524,1)" dx="1.44 -1.44">10<tspan dx="0.84" dy="-17" font-size="30.45">1</tspan></text>
<path d="M236.6,1265.32H245.15V1271.6H236.6ZM249.36,1265.32H257.57V1271.6H249.36Z" fill="#fff"/>
<path d="M281.43,1249.32H287.75V1254.6H281.43ZM290.83,1249.32H296.93V1254.6H290.83Z" fill="#fff"/>
<text font-size="43.79" style="color:#000" transform="translate(345.55,1270.1) scale(0.9524,1)" dx="1.44 -1.44">10<tspan dx="0.84" dy="-17" font-size="30.45">2</tspan></text>
<path d="M348.6,1265.32H357.15V1271.6H348.6ZM361.36,1265.32H369.57V1271.6H361.36Z" fill="#fff"/>
<text font-size="43.79" style="color:#000" transform="translate(457.55,1270.1) scale(0.9524,1)" dx="1.44 -1.44">10<tspan dx="0.84" dy="-17" font-size="30.45">3</tspan></text>
<path d="M460.6,1265.32H469.15V1271.6H460.6ZM473.36,1265.32H481.57V1271.6H473.36Z" fill="#fff"/>
<text font-size="43.79" style="color:#000" transform="translate(569.55,1270.1) scale(0.9524,1)" dx="1.44 -1.44">10<tspan dx="0.84" dy="-17" font-size="30.45">4</tspan></text>
<path d="M572.6,1265.32H581.15V1271.6H572.6ZM585.36,1265.32H593.57V1271.6H585.36Z" fill="#fff"/>
<text font-size="43.79" style="color:#000" transform="translate(681.55,1270.1) scale(0.9524,1)" dx="1.44 -1.44">10<tspan dx="0.84" dy="-17" font-size="30.45">5</tspan></text>
<path d="M684.6,1265.32H693.15V1271.6H684.6ZM697.36,1265.32H705.57V1271.6H697.36Z" fill="#fff"/>
<text font-size="39.9" style="color:#7f00ff" transform="translate(132,745.5) scale(0.9524,1)" dx="0 0 1.32 -1.32">x 10<tspan dx="-1.16" dy="-15" font-size="27.3">-5</tspan></text>
<path d="M164.2,741.01H172.1V747H164.2ZM175.98,741.01H183.58V747H175.98Z" fill="#fff"/>
<text font-size="39.9" style="color:#000080" transform="translate(659,745.5) scale(0.9524,1)" dx="0 0 1.32 -1.32">x 10<tspan dx="-1.68" dy="-22.7" font-size="27.3">-</tspan><tspan dx="-0.63" dy="7.7" font-size="27.3">6</tspan></text>
<path d="M691.2,741.01H699.1V747H691.2ZM702.98,741.01H710.58V747H702.98Z" fill="#fff"/>
<line x1="300.1" y1="856.4" x2="198.3" y2="856.4" stroke="#7f00ff" stroke-width="3.8" stroke-linecap="round"/>
<path d="M175.3,856.4 L203.8,846 L198.3,856.4 L203.8,866.8 Z" fill="#7f00ff"/>
<line x1="582.4" y1="907.2" x2="684.3" y2="907.2" stroke="#000080" stroke-width="3.8" stroke-linecap="round"/>
<path d="M707.3,907.2 L678.8,896.8 L684.3,907.2 L678.8,917.6 Z" fill="#000080"/>
<text font-size="49.56" style="color:#ff8000" transform="translate(402.4,804.1) scale(0.9524,1)">37 K</text>
<text font-size="45.5" style="color:#000;stroke-width:0.5px" transform="translate(27,793.6) scale(0.9700,1)">(b)</text>
<text font-size="65.67" style="color:#000;stroke-width:0.9px" class="gi" x="338.92" y="1322.56">ω</text>
<text font-size="51.45" style="color:#000" transform="translate(384.8,1321.5) scale(0.9524,1)">/2</text>
<text font-size="66.15" style="color:#000;stroke-width:0.6px" class="gi" x="423.64" y="1321.95">π</text>
<text font-size="51.07" style="color:#000" transform="translate(463.88,1321.5) scale(0.9524,1)">(Hz)</text>
<text font-size="66.68" style="color:#7f00ff;stroke-width:0.3px" class="g" transform="translate(51.1,1154.23) rotate(-90) scale(1.1200,1)">χ</text>
<text font-size="61.74" style="color:#7f00ff;stroke-width:1px" transform="translate(62.78,1121.79) rotate(-90) scale(0.9524,1)">'</text>
<text font-size="40.29" style="color:#7f00ff" transform="translate(55.5,1099.08) rotate(-90) scale(0.9524,1)">(emu/Oe)</text>
<text font-size="66.53" style="color:#000080;stroke-width:0.3px" class="g" transform="translate(830.64,1113.23) rotate(-90) scale(1.1200,1)">χ</text>
<text font-size="57.75" style="color:#000080;stroke-width:1px" transform="translate(838.03,1078.84) rotate(-90) scale(0.9524,1)">"</text>
<text font-size="40.06" style="color:#000080" transform="translate(833.53,1047.17) rotate(-90) scale(0.9524,1)">(emu/Oe)</text>
</g>
<g id="panel-c">
<rect x="1117" y="287.75" width="591.8" height="6" fill="#000"/>
<rect x="1175.73" y="281.85" width="5.7" height="8.9" fill="#000"/>
<rect x="1175.73" y="116.1" width="5.7" height="8.9" fill="#000"/>
<rect x="1234.31" y="272.95" width="5.7" height="17.8" fill="#000"/>
<rect x="1234.31" y="116.1" width="5.7" height="17.8" fill="#000"/>
<rect x="1292.89" y="281.85" width="5.7" height="8.9" fill="#000"/>
<rect x="1292.89" y="116.1" width="5.7" height="8.9" fill="#000"/>
<rect x="1351.47" y="272.95" width="5.7" height="17.8" fill="#000"/>
<rect x="1351.47" y="116.1" width="5.7" height="17.8" fill="#000"/>
<rect x="1410.05" y="281.85" width="5.7" height="8.9" fill="#000"/>
<rect x="1410.05" y="116.1" width="5.7" height="8.9" fill="#000"/>
<rect x="1468.63" y="272.95" width="5.7" height="17.8" fill="#000"/>
<rect x="1468.63" y="116.1" width="5.7" height="17.8" fill="#000"/>
<rect x="1527.21" y="281.85" width="5.7" height="8.9" fill="#000"/>
<rect x="1527.21" y="116.1" width="5.7" height="8.9" fill="#000"/>
<rect x="1585.79" y="272.95" width="5.7" height="17.8" fill="#000"/>
<rect x="1585.79" y="116.1" width="5.7" height="17.8" fill="#000"/>
<rect x="1644.37" y="281.85" width="5.7" height="8.9" fill="#000"/>
<rect x="1644.37" y="116.1" width="5.7" height="8.9" fill="#000"/>
<rect x="1120" y="244.24" width="8.7" height="5.7" fill="#000"/>
<rect x="1697.1" y="244.24" width="8.7" height="5.7" fill="#000"/>
<rect x="1120" y="200.58" width="17.5" height="5.7" fill="#000"/>
<rect x="1688.3" y="200.58" width="17.5" height="5.7" fill="#000"/>
<rect x="1120" y="156.91" width="8.7" height="5.7" fill="#000"/>
<rect x="1697.1" y="156.91" width="8.7" height="5.7" fill="#000"/>
<text font-size="61.81" style="color:#000" transform="translate(1016.46,134.2) scale(0.9804,1)" dx="2.04 -2.04 0">1.6</text>
<path d="M1021.56,128.06H1033.42V135.7H1021.56ZM1039.31,128.06H1050.68V135.7H1039.31Z" fill="#fff"/>
<text font-size="61.81" style="color:#000" transform="translate(1016.46,221.53) scale(0.9804,1)">0.8</text>
<text font-size="61.81" style="color:#000" transform="translate(1016.46,308.85) scale(0.9804,1)">0.0</text>
<text font-size="51.51" style="color:#ff0000" class="i" transform="translate(1141,179.1) scale(0.9804,1)">40 K</text>
<rect x="1117" y="462.4" width="591.8" height="6" fill="#000"/>
<rect x="1175.73" y="456.5" width="5.7" height="8.9" fill="#000"/>
<rect x="1234.31" y="447.6" width="5.7" height="17.8" fill="#000"/>
<rect x="1292.89" y="456.5" width="5.7" height="8.9" fill="#000"/>
<rect x="1351.47" y="447.6" width="5.7" height="17.8" fill="#000"/>
<rect x="1410.05" y="456.5" width="5.7" height="8.9" fill="#000"/>
<rect x="1468.63" y="447.6" width="5.7" height="17.8" fill="#000"/>
<rect x="1527.21" y="456.5" width="5.7" height="8.9" fill="#000"/>
<rect x="1585.79" y="447.6" width="5.7" height="17.8" fill="#000"/>
<rect x="1644.37" y="456.5" width="5.7" height="8.9" fill="#000"/>
<rect x="1120" y="417.49" width="8.7" height="5.7" fill="#000"/>
<rect x="1697.1" y="417.49" width="8.7" height="5.7" fill="#000"/>
<rect x="1120" y="372.43" width="17.5" height="5.7" fill="#000"/>
<rect x="1688.3" y="372.43" width="17.5" height="5.7" fill="#000"/>
<rect x="1120" y="327.27" width="8.7" height="5.7" fill="#000"/>
<rect x="1697.1" y="327.27" width="8.7" height="5.7" fill="#000"/>
<text font-size="61.81" style="color:#000" transform="translate(1016.46,393.38) scale(0.9804,1)" dx="2.04 -2.04 2.04">1.1</text>
<path d="M1021.56,387.24H1033.42V394.88H1021.56ZM1039.31,387.24H1050.68V394.88H1039.31Z" fill="#fff"/>
<path d="M1072.1,387.24H1083.96V394.88H1072.1ZM1089.85,387.24H1101.22V394.88H1089.85Z" fill="#fff"/>
<text font-size="51.51" style="color:#ff0000" class="i" transform="translate(1141,353.75) scale(0.9804,1)">37 K</text>
<rect x="1117" y="637.05" width="591.8" height="6" fill="#000"/>
<rect x="1175.73" y="631.15" width="5.7" height="8.9" fill="#000"/>
<rect x="1234.31" y="622.25" width="5.7" height="17.8" fill="#000"/>
<rect x="1292.89" y="631.15" width="5.7" height="8.9" fill="#000"/>
<rect x="1351.47" y="622.25" width="5.7" height="17.8" fill="#000"/>
<rect x="1410.05" y="631.15" width="5.7" height="8.9" fill="#000"/>
<rect x="1468.63" y="622.25" width="5.7" height="17.8" fill="#000"/>
<rect x="1527.21" y="631.15" width="5.7" height="8.9" fill="#000"/>
<rect x="1585.79" y="622.25" width="5.7" height="17.8" fill="#000"/>
<rect x="1644.37" y="631.15" width="5.7" height="8.9" fill="#000"/>
<rect x="1120" y="591.56" width="8.7" height="5.7" fill="#000"/>
<rect x="1697.1" y="591.56" width="8.7" height="5.7" fill="#000"/>
<rect x="1120" y="545.95" width="17.5" height="5.7" fill="#000"/>
<rect x="1688.3" y="545.95" width="17.5" height="5.7" fill="#000"/>
<rect x="1120" y="500.31" width="8.7" height="5.7" fill="#000"/>
<rect x="1697.1" y="500.31" width="8.7" height="5.7" fill="#000"/>
<text font-size="61.81" style="color:#000" transform="translate(1016.46,483.5) scale(0.9804,1)">0.0</text>
<text font-size="61.81" style="color:#000" transform="translate(1016.46,566.9) scale(0.9804,1)" dx="2.04 -2.04 2.04">1.1</text>
<path d="M1021.56,560.76H1033.42V568.4H1021.56ZM1039.31,560.76H1050.68V568.4H1039.31Z" fill="#fff"/>
<path d="M1072.1,560.76H1083.96V568.4H1072.1ZM1089.85,560.76H1101.22V568.4H1089.85Z" fill="#fff"/>
<text font-size="51.51" style="color:#ff0000" class="i" transform="translate(1141,528.4) scale(0.9804,1)">36 K</text>
<rect x="1117" y="811.7" width="591.8" height="6" fill="#000"/>
<rect x="1175.73" y="805.8" width="5.7" height="8.9" fill="#000"/>
<rect x="1234.31" y="796.9" width="5.7" height="17.8" fill="#000"/>
<rect x="1292.89" y="805.8" width="5.7" height="8.9" fill="#000"/>
<rect x="1351.47" y="796.9" width="5.7" height="17.8" fill="#000"/>
<rect x="1410.05" y="805.8" width="5.7" height="8.9" fill="#000"/>
<rect x="1468.63" y="796.9" width="5.7" height="17.8" fill="#000"/>
<rect x="1527.21" y="805.8" width="5.7" height="8.9" fill="#000"/>
<rect x="1585.79" y="796.9" width="5.7" height="17.8" fill="#000"/>
<rect x="1644.37" y="805.8" width="5.7" height="8.9" fill="#000"/>
<rect x="1120" y="766.79" width="8.7" height="5.7" fill="#000"/>
<rect x="1697.1" y="766.79" width="8.7" height="5.7" fill="#000"/>
<rect x="1120" y="721.73" width="17.5" height="5.7" fill="#000"/>
<rect x="1688.3" y="721.73" width="17.5" height="5.7" fill="#000"/>
<rect x="1120" y="676.57" width="8.7" height="5.7" fill="#000"/>
<rect x="1697.1" y="676.57" width="8.7" height="5.7" fill="#000"/>
<text font-size="61.81" style="color:#000" transform="translate(1016.46,658.15) scale(0.9804,1)">0.0</text>
<text font-size="61.81" style="color:#000" transform="translate(1016.46,742.68) scale(0.9804,1)" dx="2.04 -2.04 2.04">1.1</text>
<path d="M1021.56,736.54H1033.42V744.18H1021.56ZM1039.31,736.54H1050.68V744.18H1039.31Z" fill="#fff"/>
<path d="M1072.1,736.54H1083.96V744.18H1072.1ZM1089.85,736.54H1101.22V744.18H1089.85Z" fill="#fff"/>
<text font-size="51.51" style="color:#ff0000" class="i" transform="translate(1141,703.05) scale(0.9804,1)">35 K</text>
<rect x="1117" y="986.35" width="591.8" height="6" fill="#000"/>
<rect x="1175.73" y="980.45" width="5.7" height="8.9" fill="#000"/>
<rect x="1234.31" y="971.55" width="5.7" height="17.8" fill="#000"/>
<rect x="1292.89" y="980.45" width="5.7" height="8.9" fill="#000"/>
<rect x="1351.47" y="971.55" width="5.7" height="17.8" fill="#000"/>
<rect x="1410.05" y="980.45" width="5.7" height="8.9" fill="#000"/>
<rect x="1468.63" y="971.55" width="5.7" height="17.8" fill="#000"/>
<rect x="1527.21" y="980.45" width="5.7" height="8.9" fill="#000"/>
<rect x="1585.79" y="971.55" width="5.7" height="17.8" fill="#000"/>
<rect x="1644.37" y="980.45" width="5.7" height="8.9" fill="#000"/>
<rect x="1120" y="940.65" width="8.7" height="5.7" fill="#000"/>
<rect x="1697.1" y="940.65" width="8.7" height="5.7" fill="#000"/>
<rect x="1120" y="894.55" width="17.5" height="5.7" fill="#000"/>
<rect x="1688.3" y="894.55" width="17.5" height="5.7" fill="#000"/>
<rect x="1120" y="848.67" width="8.7" height="5.7" fill="#000"/>
<rect x="1697.1" y="848.67" width="8.7" height="5.7" fill="#000"/>
<text font-size="61.81" style="color:#000" transform="translate(1016.46,832.8) scale(0.9804,1)">0.0</text>
<text font-size="61.81" style="color:#000" transform="translate(1016.46,915.5) scale(0.9804,1)" dx="2.04 -2.04 2.04">1.1</text>
<path d="M1021.56,909.36H1033.42V917H1021.56ZM1039.31,909.36H1050.68V917H1039.31Z" fill="#fff"/>
<path d="M1072.1,909.36H1083.96V917H1072.1ZM1089.85,909.36H1101.22V917H1089.85Z" fill="#fff"/>
<text font-size="51.51" style="color:#ff0000" class="i" transform="translate(1141,877.7) scale(0.9804,1)">32 K</text>
<rect x="1117" y="1161" width="591.8" height="6" fill="#000"/>
<rect x="1175.73" y="1155.1" width="5.7" height="8.9" fill="#000"/>
<rect x="1234.31" y="1146.2" width="5.7" height="17.8" fill="#000"/>
<rect x="1292.89" y="1155.1" width="5.7" height="8.9" fill="#000"/>
<rect x="1351.47" y="1146.2" width="5.7" height="17.8" fill="#000"/>
<rect x="1410.05" y="1155.1" width="5.7" height="8.9" fill="#000"/>
<rect x="1468.63" y="1146.2" width="5.7" height="17.8" fill="#000"/>
<rect x="1527.21" y="1155.1" width="5.7" height="8.9" fill="#000"/>
<rect x="1585.79" y="1146.2" width="5.7" height="17.8" fill="#000"/>
<rect x="1644.37" y="1155.1" width="5.7" height="8.9" fill="#000"/>
<rect x="1120" y="1117.19" width="8.7" height="5.7" fill="#000"/>
<rect x="1697.1" y="1117.19" width="8.7" height="5.7" fill="#000"/>
<rect x="1120" y="1073.25" width="17.5" height="5.7" fill="#000"/>
<rect x="1688.3" y="1073.25" width="17.5" height="5.7" fill="#000"/>
<rect x="1120" y="1029.29" width="8.7" height="5.7" fill="#000"/>
<rect x="1697.1" y="1029.29" width="8.7" height="5.7" fill="#000"/>
<text font-size="61.81" style="color:#000" transform="translate(1016.46,1007.45) scale(0.9804,1)">0.0</text>
<text font-size="61.81" style="color:#000" transform="translate(982.75,1094.2) scale(0.9804,1)">0.83</text>
<text font-size="61.81" style="color:#000" transform="translate(982.75,1182.1) scale(0.9804,1)">0.00</text>
<text font-size="51.51" style="color:#ff0000" class="i" transform="translate(1141,1052.35) scale(0.9804,1)">30 K</text>
<rect x="1117" y="113.1" width="591.8" height="6" fill="#000"/>
<rect x="1117" y="113.1" width="6" height="1053.9" fill="#000"/>
<rect x="1702.8" y="113.1" width="6" height="1053.9" fill="#000"/>
<defs><clipPath id="c0"><rect x="1120" y="116.1" width="585.8" height="175.05"/></clipPath><clipPath id="c1"><rect x="1120" y="290.75" width="585.8" height="175.05"/></clipPath><clipPath id="c2"><rect x="1120" y="465.4" width="585.8" height="175.05"/></clipPath><clipPath id="c3"><rect x="1120" y="640.05" width="585.8" height="175.05"/></clipPath><clipPath id="c4"><rect x="1120" y="814.7" width="585.8" height="175.05"/></clipPath><clipPath id="c5"><rect x="1120" y="989.35" width="585.8" height="175.05"/></clipPath></defs>
<path d="M1520.59,296.75 L1522.15,288.35 L1523.74,280.2 L1525.33,272.3 L1526.94,264.65 L1528.57,257.25 L1530.2,250.11 L1531.85,243.23 L1533.52,236.6 L1535.19,230.24 L1536.88,224.14 L1538.57,218.31 L1540.28,212.74 L1541.99,207.45 L1543.72,202.42 L1545.45,197.66 L1547.2,193.18 L1548.95,188.97 L1550.7,185.04 L1552.47,181.38 L1554.24,178 L1556.02,174.89 L1557.8,172.07 L1559.59,169.53 L1561.38,167.27 L1563.17,165.29 L1564.97,163.59 L1566.77,162.17 L1568.58,161.04 L1570.38,160.19 L1572.19,159.62 L1574,159.34 L1575.8,159.34 L1577.61,159.62 L1579.42,160.19 L1581.22,161.04 L1583.03,162.17 L1584.83,163.59 L1586.63,165.29 L1588.42,167.27 L1590.21,169.53 L1592,172.07 L1593.78,174.89 L1595.56,178 L1597.33,181.38 L1599.1,185.04 L1600.85,188.97 L1602.6,193.18 L1604.35,197.66 L1606.08,202.42 L1607.81,207.45 L1609.52,212.74 L1611.23,218.31 L1612.92,224.14 L1614.61,230.24 L1616.28,236.6 L1617.95,243.23 L1619.6,250.11 L1621.23,257.25 L1622.86,264.65 L1624.47,272.3 L1626.06,280.2 L1627.65,288.35 L1629.21,296.75" fill="none" stroke="#ff0000" stroke-width="6" stroke-linejoin="round" clip-path="url(#c0)"/>
<circle cx="1580.1" cy="159.5" r="12.3" fill="#6478ff" fill-opacity="0.6"/>
<circle cx="1587.2" cy="167.6" r="12.3" fill="#6478ff" fill-opacity="0.6"/>
<circle cx="1594.1" cy="178.8" r="12.3" fill="#6478ff" fill-opacity="0.6"/>
<circle cx="1599.3" cy="181.1" r="12.3" fill="#6478ff" fill-opacity="0.6"/>
<circle cx="1600.6" cy="192" r="12.3" fill="#6478ff" fill-opacity="0.6"/>
<circle cx="1606.5" cy="192.3" r="12.3" fill="#6478ff" fill-opacity="0.6"/>
<circle cx="1610" cy="224.4" r="12.3" fill="#6478ff" fill-opacity="0.6"/>
<path d="M1564.6,471.4 L1565.2,462.54 L1565.84,453.84 L1566.53,445.31 L1567.27,436.96 L1568.04,428.8 L1568.86,420.85 L1569.72,413.11 L1570.62,405.59 L1571.55,398.31 L1572.53,391.27 L1573.54,384.48 L1574.58,377.96 L1575.66,371.71 L1576.77,365.73 L1577.91,360.05 L1579.08,354.65 L1580.28,349.56 L1581.5,344.78 L1582.74,340.31 L1584.01,336.16 L1585.3,332.34 L1586.61,328.85 L1587.94,325.69 L1589.28,322.88 L1590.63,320.41 L1592,318.28 L1593.38,316.51 L1594.76,315.08 L1596.15,314.01 L1597.55,313.3 L1598.95,312.94 L1600.35,312.94 L1601.75,313.3 L1603.15,314.01 L1604.54,315.08 L1605.92,316.51 L1607.3,318.28 L1608.67,320.41 L1610.02,322.88 L1611.36,325.69 L1612.69,328.85 L1614,332.34 L1615.29,336.16 L1616.56,340.31 L1617.8,344.78 L1619.02,349.56 L1620.22,354.65 L1621.39,360.05 L1622.53,365.73 L1623.64,371.71 L1624.72,377.96 L1625.76,384.48 L1626.77,391.27 L1627.75,398.31 L1628.68,405.59 L1629.58,413.11 L1630.44,420.85 L1631.26,428.8 L1632.03,436.96 L1632.77,445.31 L1633.46,453.84 L1634.1,462.54 L1634.7,471.4" fill="none" stroke="#ff0000" stroke-width="6" stroke-linejoin="round" clip-path="url(#c1)"/>
<circle cx="1577.4" cy="351.6" r="12.3" fill="#6478ff" fill-opacity="0.6"/>
<circle cx="1585.2" cy="341" r="12.3" fill="#6478ff" fill-opacity="0.6"/>
<circle cx="1596.1" cy="323.2" r="12.3" fill="#6478ff" fill-opacity="0.6"/>
<circle cx="1606.4" cy="319.7" r="12.3" fill="#6478ff" fill-opacity="0.6"/>
<circle cx="1615.1" cy="328" r="12.3" fill="#6478ff" fill-opacity="0.6"/>
<circle cx="1628.5" cy="384.5" r="12.3" fill="#6478ff" fill-opacity="0.6"/>
<circle cx="1630.6" cy="429.6" r="12.3" fill="#6478ff" fill-opacity="0.6"/>
<circle cx="1632.3" cy="448.2" r="12.3" fill="#6478ff" fill-opacity="0.6"/>
<path d="M1563.5,646.05 L1564.27,636.96 L1565.07,628.06 L1565.91,619.36 L1566.8,610.86 L1567.72,602.57 L1568.69,594.51 L1569.69,586.68 L1570.73,579.09 L1571.8,571.76 L1572.9,564.68 L1574.04,557.86 L1575.21,551.32 L1576.41,545.06 L1577.64,539.09 L1578.9,533.41 L1580.18,528.03 L1581.49,522.96 L1582.82,518.2 L1584.17,513.76 L1585.54,509.64 L1586.93,505.84 L1588.34,502.38 L1589.76,499.26 L1591.2,496.47 L1592.64,494.02 L1594.1,491.92 L1595.57,490.16 L1597.05,488.76 L1598.53,487.7 L1600.02,487 L1601.51,486.64 L1602.99,486.64 L1604.48,487 L1605.97,487.7 L1607.45,488.76 L1608.93,490.16 L1610.4,491.92 L1611.86,494.02 L1613.3,496.47 L1614.74,499.26 L1616.16,502.38 L1617.57,505.84 L1618.96,509.64 L1620.33,513.76 L1621.68,518.2 L1623.01,522.96 L1624.32,528.03 L1625.6,533.41 L1626.86,539.09 L1628.09,545.06 L1629.29,551.32 L1630.46,557.86 L1631.6,564.68 L1632.7,571.76 L1633.77,579.09 L1634.81,586.68 L1635.81,594.51 L1636.78,602.57 L1637.7,610.86 L1638.59,619.36 L1639.43,628.06 L1640.23,636.96 L1641,646.05" fill="none" stroke="#ff0000" stroke-width="6" stroke-linejoin="round" clip-path="url(#c2)"/>
<circle cx="1578.5" cy="523.8" r="12.3" fill="#6478ff" fill-opacity="0.6"/>
<circle cx="1586.4" cy="515.1" r="12.3" fill="#6478ff" fill-opacity="0.6"/>
<circle cx="1597.1" cy="498.6" r="12.3" fill="#6478ff" fill-opacity="0.6"/>
<circle cx="1606.1" cy="487.6" r="12.3" fill="#6478ff" fill-opacity="0.6"/>
<circle cx="1613.4" cy="486.2" r="12.3" fill="#6478ff" fill-opacity="0.6"/>
<circle cx="1626.3" cy="517.6" r="12.3" fill="#6478ff" fill-opacity="0.6"/>
<circle cx="1624.4" cy="522.7" r="12.3" fill="#6478ff" fill-opacity="0.6"/>
<circle cx="1628.1" cy="571.6" r="12.3" fill="#6478ff" fill-opacity="0.6"/>
<path d="M1558.63,820.7 L1559.42,812.5 L1560.24,804.47 L1561.09,796.63 L1561.98,788.98 L1562.91,781.53 L1563.87,774.3 L1564.86,767.28 L1565.88,760.48 L1566.93,753.91 L1568.02,747.58 L1569.13,741.49 L1570.26,735.65 L1571.43,730.06 L1572.61,724.74 L1573.82,719.68 L1575.06,714.89 L1576.31,710.38 L1577.59,706.14 L1578.88,702.2 L1580.19,698.54 L1581.51,695.17 L1582.85,692.09 L1584.21,689.32 L1585.57,686.85 L1586.95,684.68 L1588.33,682.81 L1589.73,681.26 L1591.12,680.01 L1592.53,679.08 L1593.94,678.45 L1595.34,678.14 L1596.76,678.14 L1598.16,678.45 L1599.57,679.08 L1600.98,680.01 L1602.37,681.26 L1603.77,682.81 L1605.15,684.68 L1606.53,686.85 L1607.89,689.32 L1609.25,692.09 L1610.59,695.17 L1611.91,698.54 L1613.22,702.2 L1614.51,706.14 L1615.79,710.38 L1617.04,714.89 L1618.28,719.68 L1619.49,724.74 L1620.67,730.06 L1621.84,735.65 L1622.97,741.49 L1624.08,747.58 L1625.17,753.91 L1626.22,760.48 L1627.24,767.28 L1628.23,774.3 L1629.19,781.53 L1630.12,788.98 L1631.01,796.63 L1631.86,804.47 L1632.68,812.5 L1633.47,820.7" fill="none" stroke="#ff0000" stroke-width="6" stroke-linejoin="round" clip-path="url(#c3)"/>
<circle cx="1576.4" cy="703.5" r="12.3" fill="#6478ff" fill-opacity="0.6"/>
<circle cx="1583.6" cy="698.4" r="12.3" fill="#6478ff" fill-opacity="0.6"/>
<circle cx="1593.7" cy="687.4" r="12.3" fill="#6478ff" fill-opacity="0.6"/>
<circle cx="1601.2" cy="680.5" r="12.3" fill="#6478ff" fill-opacity="0.6"/>
<circle cx="1608.1" cy="679.8" r="12.3" fill="#6478ff" fill-opacity="0.6"/>
<circle cx="1619.8" cy="688.7" r="12.3" fill="#6478ff" fill-opacity="0.6"/>
<circle cx="1620.8" cy="728.3" r="12.3" fill="#6478ff" fill-opacity="0.6"/>
<circle cx="1620.3" cy="773.2" r="12.3" fill="#6478ff" fill-opacity="0.6"/>
<path d="M1528.53,995.35 L1530.09,988.53 L1531.66,981.91 L1533.25,975.48 L1534.86,969.26 L1536.48,963.25 L1538.11,957.44 L1539.76,951.83 L1541.43,946.44 L1543.1,941.26 L1544.79,936.29 L1546.49,931.54 L1548.21,927.01 L1549.93,922.69 L1551.67,918.59 L1553.41,914.71 L1555.17,911.05 L1556.93,907.62 L1558.7,904.41 L1560.48,901.43 L1562.27,898.67 L1564.06,896.13 L1565.86,893.83 L1567.67,891.75 L1569.48,889.91 L1571.29,888.29 L1573.11,886.9 L1574.93,885.74 L1576.75,884.82 L1578.58,884.12 L1580.41,883.66 L1582.24,883.43 L1584.06,883.43 L1585.89,883.66 L1587.72,884.12 L1589.55,884.82 L1591.37,885.74 L1593.19,886.9 L1595.01,888.29 L1596.82,889.91 L1598.63,891.75 L1600.44,893.83 L1602.24,896.13 L1604.03,898.67 L1605.82,901.43 L1607.6,904.41 L1609.37,907.62 L1611.13,911.05 L1612.89,914.71 L1614.63,918.59 L1616.37,922.69 L1618.09,927.01 L1619.81,931.54 L1621.51,936.29 L1623.2,941.26 L1624.87,946.44 L1626.54,951.83 L1628.19,957.44 L1629.82,963.25 L1631.44,969.26 L1633.05,975.48 L1634.64,981.91 L1636.21,988.53 L1637.77,995.35" fill="none" stroke="#ff0000" stroke-width="6" stroke-linejoin="round" clip-path="url(#c4)"/>
<circle cx="1566.4" cy="893.6" r="12.3" fill="#6478ff" fill-opacity="0.6"/>
<circle cx="1573" cy="888.4" r="12.3" fill="#6478ff" fill-opacity="0.6"/>
<circle cx="1580.5" cy="887.3" r="12.3" fill="#6478ff" fill-opacity="0.6"/>
<circle cx="1587.4" cy="884.7" r="12.3" fill="#6478ff" fill-opacity="0.6"/>
<circle cx="1590.6" cy="885" r="12.3" fill="#6478ff" fill-opacity="0.6"/>
<circle cx="1599.2" cy="894.5" r="12.3" fill="#6478ff" fill-opacity="0.6"/>
<circle cx="1606.1" cy="903.4" r="12.3" fill="#6478ff" fill-opacity="0.6"/>
<circle cx="1608.4" cy="909.1" r="12.3" fill="#6478ff" fill-opacity="0.6"/>
<path d="M1530.96,1170 L1531.95,1161.97 L1532.96,1154.16 L1534,1146.57 L1535.05,1139.19 L1536.11,1132.05 L1537.2,1125.13 L1538.31,1118.44 L1539.43,1112 L1540.57,1105.79 L1541.72,1099.83 L1542.89,1094.12 L1544.08,1088.66 L1545.27,1083.45 L1546.49,1078.5 L1547.71,1073.81 L1548.95,1069.38 L1550.19,1065.21 L1551.45,1061.32 L1552.72,1057.69 L1554,1054.33 L1555.28,1051.25 L1556.57,1048.44 L1557.87,1045.91 L1559.18,1043.65 L1560.49,1041.68 L1561.81,1039.98 L1563.13,1038.57 L1564.45,1037.44 L1565.78,1036.59 L1567.11,1036.02 L1568.44,1035.74 L1569.76,1035.74 L1571.09,1036.02 L1572.42,1036.59 L1573.75,1037.44 L1575.07,1038.57 L1576.39,1039.98 L1577.71,1041.68 L1579.02,1043.65 L1580.33,1045.91 L1581.63,1048.44 L1582.92,1051.25 L1584.2,1054.33 L1585.48,1057.69 L1586.75,1061.32 L1588.01,1065.21 L1589.25,1069.38 L1590.49,1073.81 L1591.71,1078.5 L1592.93,1083.45 L1594.12,1088.66 L1595.31,1094.12 L1596.48,1099.83 L1597.63,1105.79 L1598.77,1112 L1599.89,1118.44 L1601,1125.13 L1602.09,1132.05 L1603.15,1139.19 L1604.2,1146.57 L1605.24,1154.16 L1606.25,1161.97 L1607.24,1170" fill="none" stroke="#ff0000" stroke-width="6" stroke-linejoin="round" clip-path="url(#c5)"/>
<circle cx="1556.4" cy="1046.7" r="12.3" fill="#6478ff" fill-opacity="0.6"/>
<circle cx="1562.5" cy="1043.9" r="12.3" fill="#6478ff" fill-opacity="0.6"/>
<circle cx="1569.9" cy="1041.3" r="12.3" fill="#6478ff" fill-opacity="0.6"/>
<circle cx="1577.4" cy="1042.1" r="12.3" fill="#6478ff" fill-opacity="0.6"/>
<circle cx="1582.6" cy="1043.3" r="12.3" fill="#6478ff" fill-opacity="0.6"/>
<circle cx="1593.7" cy="1063.4" r="12.3" fill="#6478ff" fill-opacity="0.6"/>
<circle cx="1587.6" cy="1082.6" r="12.3" fill="#6478ff" fill-opacity="0.6"/>
<circle cx="1595.5" cy="1113.4" r="12.3" fill="#6478ff" fill-opacity="0.6"/>
<text font-size="61.81" style="color:#000" transform="translate(1088.15,1225.8) scale(0.9804,1)">0</text>
<text font-size="61.81" style="color:#000" transform="translate(1188.46,1225.8) scale(0.9804,1)" dx="2.04 -2.04">10</text>
<path d="M1193.56,1219.66H1205.42V1227.3H1193.56ZM1211.31,1219.66H1222.68V1227.3H1211.31Z" fill="#fff"/>
<text font-size="61.81" style="color:#000" transform="translate(1305.62,1225.8) scale(0.9804,1)">20</text>
<text font-size="61.81" style="color:#000" transform="translate(1422.78,1225.8) scale(0.9804,1)">30</text>
<text font-size="61.81" style="color:#000" transform="translate(1539.94,1225.8) scale(0.9804,1)">40</text>
<text font-size="61.81" style="color:#000" transform="translate(1657.1,1225.8) scale(0.9804,1)">50</text>
<text font-size="46" style="color:#000;stroke-width:0.9px" transform="translate(942,170) scale(0.9000,1)">(c)</text>
<text font-size="63.6" style="color:#000;stroke-width:0.4px" class="do" x="1239.13" y="1304.84">χ</text>
<text font-size="87.31" style="color:#000;stroke-width:1px" transform="translate(1281.85,1320.27) scale(0.9804,1)">'</text>
<text font-size="57.12" style="color:#000" transform="translate(1312.43,1309.9) scale(0.9804,1)">(</text>
<text font-size="53.5" style="color:#000;stroke-width:0.5px" class="do" x="1331.91" y="1312.17">μ</text>
<text font-size="56.82" style="color:#000" transform="translate(1365.33,1309.9) scale(0.9804,1)">emu/Oe)</text>
<text font-size="64.8" style="color:#000;stroke-width:0.4px" class="do" transform="translate(962.79,805.62) rotate(-90)">χ</text>
<text font-size="87.31" style="color:#000;stroke-width:1px" transform="translate(985.87,756.24) rotate(-90) scale(0.9804,1)">"</text>
<text font-size="57.63" style="color:#000" transform="translate(976.96,714.5) rotate(-90) scale(0.9804,1)">(</text>
<text font-size="53.5" style="color:#000;stroke-width:0.5px" class="do" transform="translate(978.27,694.89) rotate(-90)">μ</text>
<text font-size="57.36" style="color:#000" transform="translate(976.77,661.09) rotate(-90) scale(0.9804,1)">emu/Oe)</text>
</g>
</svg>
</body></html>
